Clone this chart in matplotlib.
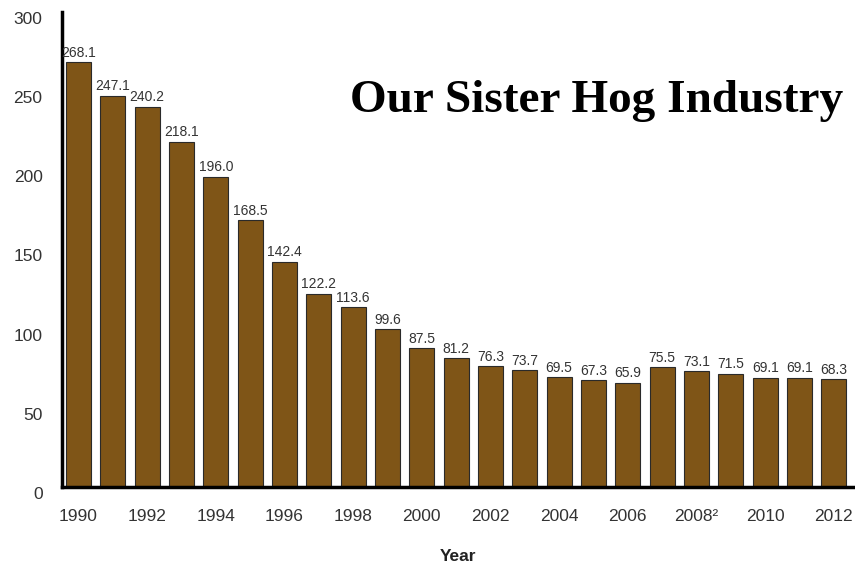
import matplotlib.pyplot as plt
import numpy as np

plt.rcParams["font.family"] = ["Liberation Sans", "DejaVu Sans"]

years = list(range(1990, 2013))
values = [268.1, 247.1, 240.2, 218.1, 196.0, 168.5, 142.4, 122.2, 113.6, 99.6,
          87.5, 81.2, 76.3, 73.7, 69.5, 67.3, 65.9, 75.5, 73.1, 71.5, 69.1, 69.1, 68.3]
tick_labels = ["1990", "1992", "1994", "1996", "1998", "2000", "2002",
               "2004", "2006", "2008\u00b2", "2010", "2012"]

fig = plt.figure(figsize=(8.55, 5.67), dpi=100)
ax = fig.add_axes([0.0725, 0.141, 0.926, 0.838])

x = np.arange(len(years))
ax.bar(x, values, width=0.73, color="#7f5517", edgecolor="#2a2a2a", linewidth=0.8)

for xi, v in zip(x, values):
    ax.text(xi, v + 1.5, f"{v:.1f}", ha="center", va="bottom", fontsize=10, color="#333333")

ax.set_xlim(-0.48, 22.58)
ax.set_ylim(0, 300)
ax.set_yticks([0, 50, 100, 150, 200, 250, 300])
ax.set_xticks(x[::2])
ax.set_xticklabels(tick_labels)
ax.tick_params(axis="both", length=0, labelsize=12.5, labelcolor="#333333")
ax.tick_params(axis="x", pad=16)
ax.tick_params(axis="y", pad=14)
for lbl in ax.get_yticklabels():
    lbl.set_verticalalignment("top")

ax.spines["top"].set_visible(False)
ax.spines["right"].set_visible(False)
ax.spines["left"].set_linewidth(2.5)
ax.spines["bottom"].set_linewidth(2.5)

ax.set_xlabel("Year", fontsize=12.5, fontweight="bold", color="#222222", labelpad=18)

fig.text(0.986, 0.822, "Our Sister Hog Industry", ha="right", va="center",
         fontsize=34, fontweight="bold", family="Liberation Serif")

fig.savefig("out.png", dpi=100)
